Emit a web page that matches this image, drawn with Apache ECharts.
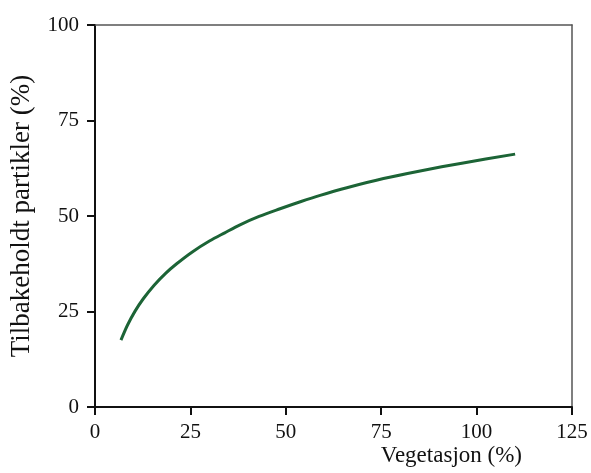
<!DOCTYPE html>
<html>
<head>
<meta charset="utf-8">
<script src="https://cdn.jsdelivr.net/npm/echarts@6/dist/echarts.min.js"></script>
<style>html,body{margin:0;padding:0;background:#fff}#c{width:591px;height:473px}</style>
</head>
<body>
<div id="c"></div>
<script>
var xTicks = [0, 25, 50, 75, 100, 125];
var yTicks = [0, 25, 50, 75, 100];
var vegetation = [6.8, 8.5, 10.5, 12.7, 15.5, 18.5, 21.4, 25.5, 30.1, 34.0, 38.0, 43.0, 48.5, 54.0, 59.0, 66.0, 75.6, 85.2, 96.5, 110.1];
var retained = [17.5, 21.4, 25.1, 28.4, 31.9, 35.0, 37.5, 40.6, 43.5, 45.6, 47.7, 49.9, 51.9, 53.8, 55.4, 57.4, 59.8, 61.8, 63.9, 66.2];
var xName = 'Vegetasjon (%)';
var yName = 'Tilbakeholdt partikler (%)';

var font = 'Liberation Serif';
var chart = echarts.init(document.getElementById('c'));
var pts = vegetation.map(function (v, i) { return [v, retained[i]]; });
chart.setOption({
  animation: false,
  backgroundColor: '#fff',
  grid: { left: 95, right: 19, top: 25, bottom: 66, containLabel: false, outerBoundsMode: 'none' },
  xAxis: [{
    type: 'value', min: xTicks[0], max: xTicks[xTicks.length - 1], interval: 25,
    name: xName, nameLocation: 'end', nameGap: -50,
    nameTextStyle: { fontFamily: font, fontSize: 23, color: '#111', align: 'right', verticalAlign: 'top', padding: [37, 0, 0, 0] },
    axisLine: { show: true, onZero: false, lineStyle: { color: '#111', width: 2 } },
    axisTick: { show: true, inside: false, length: 8, lineStyle: { color: '#111', width: 2 } },
    axisLabel: { fontFamily: font, fontSize: 21, color: '#111', margin: 15 },
    splitLine: { show: false }
  }, {
    type: 'value', position: 'top', min: 0, max: 125,
    axisLine: { show: true, onZero: false, lineStyle: { color: '#555', width: 1.5 } },
    axisTick: { show: false }, axisLabel: { show: false }, splitLine: { show: false }
  }],
  yAxis: [{
    type: 'value', min: yTicks[0], max: yTicks[yTicks.length - 1], interval: 25,
    name: yName, nameLocation: 'middle', nameGap: 60, nameRotate: 90,
    nameTextStyle: { fontFamily: font, fontSize: 27, color: '#111' },
    axisLine: { show: true, onZero: false, lineStyle: { color: '#111', width: 2 } },
    axisTick: { show: true, inside: false, length: 8, lineStyle: { color: '#111', width: 2 } },
    axisLabel: { fontFamily: font, fontSize: 21, color: '#111', margin: 16 },
    splitLine: { show: false }
  }, {
    type: 'value', position: 'right', min: 0, max: 100,
    axisLine: { show: true, onZero: false, lineStyle: { color: '#555', width: 1.5 } },
    axisTick: { show: false }, axisLabel: { show: false }, splitLine: { show: false }
  }],
  series: [{
    type: 'line', data: pts, smooth: 0.3, showSymbol: false,
    lineStyle: { color: '#1c6436', width: 3 }
  }]
});
</script>
</body>
</html>
